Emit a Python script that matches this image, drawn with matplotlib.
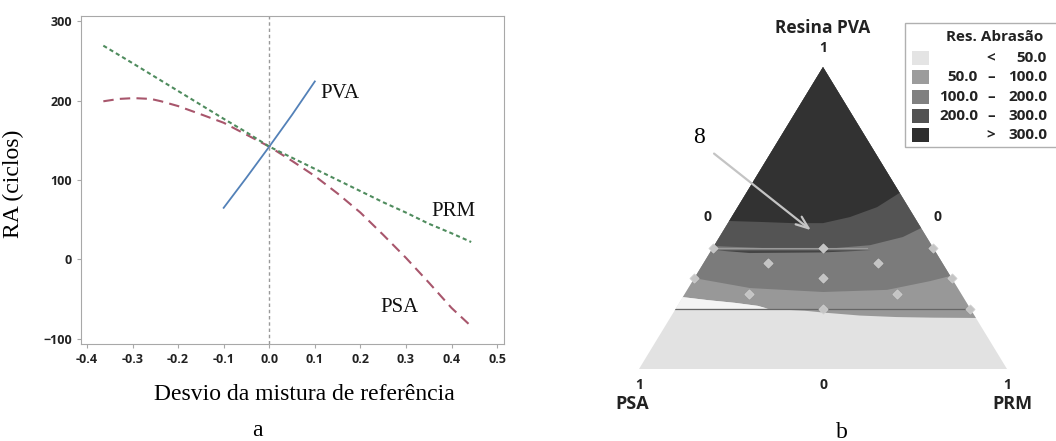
import matplotlib
matplotlib.use('Agg')
import matplotlib.pyplot as plt
from matplotlib.patches import Polygon, Rectangle

# ---- panel a: desvio da mistura de referencia ----
pva_x = [-0.10, -0.05, 0.0, 0.05, 0.10]
pva_y = [65, 103, 142, 182, 224]

prm_x = [-0.364, -0.3, -0.2, -0.1, -0.05, 0.0, 0.05, 0.1, 0.15, 0.2, 0.25, 0.3, 0.35, 0.4, 0.443]
prm_y = [269, 247, 212, 177, 160, 142, 128, 114, 100, 86, 72, 59, 45, 33, 22]

psa_x = [-0.364, -0.33, -0.297, -0.26, -0.237, -0.2, -0.147, -0.1, -0.05, 0.0, 0.05, 0.1,
         0.15, 0.2, 0.25, 0.3, 0.35, 0.4, 0.443]
psa_y = [199, 202, 203, 202, 199, 193, 182, 172, 157, 142, 124, 105, 83, 59, 31, 2, -29, -61, -84]

curve_labels = ['PVA', 'PRM', 'PSA']
label_x = [0.156, 0.404, 0.285]
label_y = [209, 60, -60]

x_ticks = [-0.4, -0.3, -0.2, -0.1, 0.0, 0.1, 0.2, 0.3, 0.4, 0.5]
y_ticks = [-100, 0, 100, 200, 300]

# ---- panel b: mixture contour (X = (PRM-PSA)/2, PVA fraction) ----
b1_x = [-0.255, -0.171, -0.082, 0.0, 0.073, 0.147, 0.208]
b1_p = [0.490, 0.487, 0.483, 0.483, 0.503, 0.536, 0.583]
b2_x = [-0.297, -0.15, 0.0, 0.128, 0.217, 0.267]
b2_p = [0.407, 0.400, 0.397, 0.410, 0.437, 0.467]
b3_x = [-0.350, -0.198, 0.0, 0.174, 0.291, 0.346]
b3_p = [0.301, 0.268, 0.255, 0.262, 0.291, 0.308]
b4_x = [-0.381, -0.3125, -0.239, -0.177, -0.15, -0.05, 0.0, 0.1, 0.2, 0.3, 0.416]
b4_p = [0.238, 0.228, 0.219, 0.209, 0.199, 0.193, 0.187, 0.177, 0.172, 0.170, 0.169]
# light patch near PSA side
patch_x = [-0.381, -0.3125, -0.239, -0.177, -0.15]
patch_p = [0.238, 0.228, 0.219, 0.209, 0.200]

# design points (PVA, PSA, PRM)
pts_pva = [0.40, 0.40, 0.40, 0.35, 0.35, 0.30, 0.30, 0.30, 0.25, 0.25, 0.20, 0.20]
pts_psa = [0.60, 0.30, 0.00, 0.475, 0.175, 0.70, 0.35, 0.00, 0.575, 0.175, 0.40, 0.00]
pts_prm = [0.00, 0.30, 0.60, 0.175, 0.475, 0.00, 0.35, 0.70, 0.175, 0.575, 0.40, 0.80]

band_colors = ['#e2e2e2', '#989898', '#7b7b7b', '#545454', '#323232']
leg_colors = ['#e4e4e4', '#9c9c9c', '#808080', '#525252', '#2e2e2e']
leg_lo = ['', '50.0', '100.0', '200.0', '']
leg_sep = ['<', '–', '–', '–', '>']
leg_hi = ['50.0', '100.0', '200.0', '300.0', '300.0']

W, H = 1056, 441
SERIF = 'Liberation Serif'
SANS = 'Open Sans'


def px(x, y):
    return x / W, 1 - y / H


fig = plt.figure(figsize=(W / 100, H / 100), dpi=100)

ax = fig.add_axes([81 / W, (H - 344) / H, 423 / W, 328 / H])
ax.plot(psa_x, psa_y, color='#a8566c', lw=1.5, ls=(0, (5, 3)))
ax.plot(prm_x, prm_y, color='#4f8c5e', lw=1.5, ls=(0, (2, 1.5)))
ax.plot(pva_x, pva_y, color='#5381b8', lw=1.3)
ax.axvline(0, color='#9a9a9a', lw=1, ls=(0, (2.5, 2)))
for t, lx, ly in zip(curve_labels, label_x, label_y):
    ax.text(lx, ly, t, family=SERIF, fontsize=15, ha='center', va='center', color='#111111')

ax.set_xlim(-0.413, 0.515)
ax.set_ylim(-106.3, 306.3)
ax.set_xticks(x_ticks)
ax.set_xticklabels(['%.1f' % v for v in x_ticks])
ax.set_yticks(y_ticks)
for s in ax.spines.values():
    s.set_color('#a8a8a8')
ax.tick_params(colors='#a8a8a8', labelcolor='#222222', length=3, labelsize=9)
for lab in ax.get_xticklabels() + ax.get_yticklabels():
    lab.set_family(SANS)
    lab.set_fontweight('bold')
ax.set_ylabel('RA (ciclos)', family=SERIF, fontsize=17)
ax.yaxis.set_label_coords(-0.135, 0.488)
fig.text(*px(304, 395), 'Desvio da mistura de referência', family=SERIF, fontsize=17,
         ha='center', va='center')
fig.text(*px(257, 430), 'a', family=SERIF, fontsize=17, ha='center', va='center')

# ---- panel b ----
ax2 = fig.add_axes([639 / W, (H - 369) / H, 368 / W, 302 / H])
ax2.set_xlim(-0.5, 0.5)
ax2.set_ylim(0, 1)
ax2.axis('off')
tri = Polygon([(-0.5, 0), (0.5, 0), (0, 1)], closed=True, transform=ax2.transData,
              facecolor=band_colors[0], edgecolor='none')
ax2.add_patch(tri)


def band_above(bx, bp, color):
    verts = [(-0.6, bp[0])] + list(zip(bx, bp)) + [(0.6, bp[-1]), (0.6, 1.1), (-0.6, 1.1)]
    poly = Polygon(verts, closed=True, facecolor=color, edgecolor='none')
    ax2.add_patch(poly)
    poly.set_clip_path(tri)
    return poly


band_above(b4_x, b4_p, band_colors[1])
band_above(b3_x, b3_p, band_colors[2])
band_above(b2_x, b2_p, band_colors[3])
band_above(b1_x, b1_p, band_colors[4])

wp = Polygon([(-0.6, patch_p[0])] + list(zip(patch_x, patch_p)) + [(-0.6, 0.2)], closed=True,
             facecolor='#f4f4f4', edgecolor='none')
ax2.add_patch(wp)
wp.set_clip_path(tri)

ln, = ax2.plot([-0.5, 0.5], [0.2, 0.2], color='#666666', lw=0.9)
ln.set_clip_path(tri)
sl = Polygon([(-0.29, 0.393), (0.13, 0.393), (0.0, 0.386), (-0.2, 0.384)], closed=True,
             facecolor='#454545', edgecolor='none')
ax2.add_patch(sl)
sl.set_clip_path(tri)
ln2, = ax2.plot([-0.3, 0.12], [0.401, 0.401], color='#9a9a9a', lw=0.8)
ln2.set_clip_path(tri)

pts_x = [(r - s) / 2 for s, r in zip(pts_psa, pts_prm)]
ax2.scatter(pts_x, pts_pva, marker='D', s=22, color='#c4c4c4', edgecolors='#d2d2d2',
            linewidths=0.5, zorder=5)

ax2.annotate('', xy=(-0.027, 0.454), xytext=(-0.302, 0.719),
             arrowprops=dict(arrowstyle='->,head_length=0.9,head_width=0.35',
                             color='#c4c4c4', lw=1.6))
ax2.text(-0.337, 0.768, '8', family=SERIF, fontsize=17, ha='center', va='center')

tk = dict(family=SANS, fontweight='bold', ha='center', va='center', color='#222222')
fig.text(*px(823, 28), 'Resina PVA', fontsize=12.5, **tk)
fig.text(*px(823, 48), '1', fontsize=10, **tk)
fig.text(*px(707, 217), '0', fontsize=10, **tk)
fig.text(*px(937, 217), '0', fontsize=10, **tk)
fig.text(*px(639, 385), '1', fontsize=10, **tk)
fig.text(*px(823, 385), '0', fontsize=10, **tk)
fig.text(*px(1007, 385), '1', fontsize=10, **tk)
fig.text(*px(632, 404), 'PSA', fontsize=13, **tk)
fig.text(*px(1012, 404), 'PRM', fontsize=13, **tk)
fig.text(*px(842, 432), 'b', family=SERIF, fontsize=17, ha='center', va='center')

# legend box
x0, y0 = px(905, 147)
x1, y1 = px(1062, 23)
fig.patches.append(Rectangle((x0, y0), x1 - x0, y1 - y0, transform=fig.transFigure,
                             facecolor='white', edgecolor='#b0b0b0', lw=1))
fig.text(*px(995, 37), 'Res. Abrasão', fontsize=11, **tk)
row_y = [58, 77, 97, 116, 135]
for c, lo, sep, hi, ry in zip(leg_colors, leg_lo, leg_sep, leg_hi, row_y):
    sx, sy = px(912, ry + 7)
    fig.patches.append(Rectangle((sx, sy), 17 / W, 14 / H, transform=fig.transFigure,
                                 facecolor=c, edgecolor='none'))
    fig.text(*px(978, ry), lo, fontsize=11, family=SANS, fontweight='bold',
             ha='right', va='center', color='#222222')
    fig.text(*px(991, ry), sep, fontsize=11, **tk)
    fig.text(*px(1047, ry), hi, fontsize=11, family=SANS, fontweight='bold',
             ha='right', va='center', color='#222222')

fig.savefig('out.png', dpi=100)
